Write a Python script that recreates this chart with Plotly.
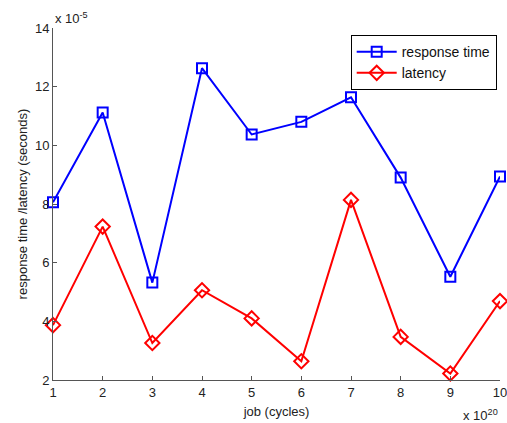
import plotly.graph_objects as go

jobs = [1, 2, 3, 4, 5, 6, 7, 8, 9, 10]
response_time = [8.06, 11.12, 5.32, 12.63, 10.37, 10.8, 11.64, 8.9, 5.52, 8.94]
latency = [3.87, 7.23, 3.26, 5.06, 4.1, 2.64, 8.14, 3.47, 2.22, 4.69]
y_ticks = [2, 4, 6, 8, 10, 12, 14]

font = dict(family="Liberation Sans, Arial, sans-serif", size=13, color="#222")

fig = go.Figure()
fig.add_trace(go.Scatter(
    x=jobs, y=response_time, name="response time", mode="lines+markers",
    line=dict(color="#0000ff", width=2),
    marker=dict(symbol="square-open", size=10, color="#0000ff", line=dict(width=2)),
    cliponaxis=False))
fig.add_trace(go.Scatter(
    x=jobs, y=latency, name="latency", mode="lines+markers",
    line=dict(color="#ff0000", width=2),
    marker=dict(symbol="diamond-open", size=11, color="#ff0000", line=dict(width=2)),
    cliponaxis=False))

fig.update_layout(
    width=507, height=423,
    margin=dict(l=53, r=7, t=28, b=43, autoexpand=False),
    paper_bgcolor="white", plot_bgcolor="white",
    font=font,
    showlegend=True,
    legend=dict(x=0.666, y=0.98, xanchor="left", yanchor="top",
                bordercolor="black", borderwidth=1, bgcolor="white",
                font=dict(family="Liberation Sans, Arial, sans-serif", size=14, color="#111"),
                tracegroupgap=0, itemwidth=40),
    xaxis=dict(range=[1, 10], tickvals=jobs, ticktext=[str(j) for j in jobs],
               showgrid=False, zeroline=False, showline=True, linecolor="#555",
               linewidth=1, ticks="inside", ticklen=4, tickcolor="#555",
               ticklabeloverflow="allow", automargin=False,
               title=dict(text="job (cycles)", standoff=8, font=dict(size=13))),
    yaxis=dict(range=[2, 14], tickvals=y_ticks, ticktext=[str(t) for t in y_ticks],
               showgrid=False, zeroline=False, showline=True, linecolor="#555",
               linewidth=1, ticks="inside", ticklen=4, tickcolor="#555",
               ticklabeloverflow="allow", automargin=False,
               title=dict(text="response time /latency (seconds)", standoff=4, font=dict(size=13))),
    annotations=[
        dict(text="x 10<sup>-5</sup>", xref="paper", yref="paper", x=0.0, y=1.0,
             xanchor="left", yanchor="bottom", showarrow=False, font=dict(size=13)),
        dict(text="x 10<sup>20</sup>", xref="paper", yref="paper", x=1.0, y=-0.07,
             xanchor="right", yanchor="top", showarrow=False, font=dict(size=13)),
    ],
)

fig.write_html("out.html")
